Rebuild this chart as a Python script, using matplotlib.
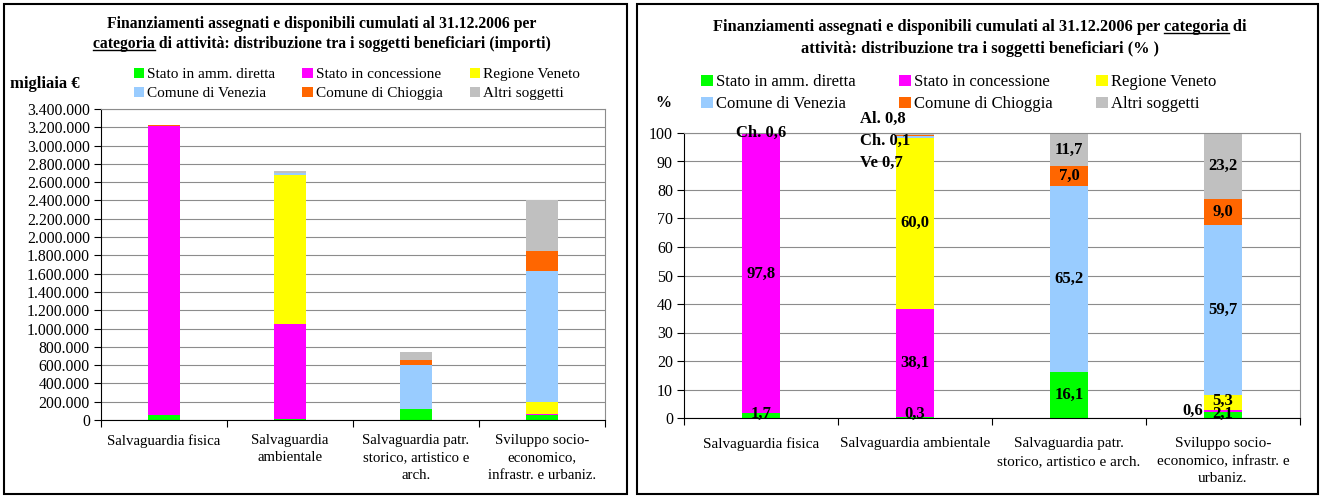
import matplotlib
matplotlib.use("Agg")
import matplotlib.pyplot as plt
from matplotlib.lines import Line2D
from matplotlib.patches import Patch, Rectangle
from matplotlib.ticker import FuncFormatter

plt.rcParams['font.family'] = ['Liberation Serif', 'DejaVu Serif']

# categorie (etichette diverse nei due grafici)
cat_importi = ["Salvaguardia fisica", "Salvaguardia\nambientale",
               "Salvaguardia patr.\nstorico, artistico e\narch.",
               "Sviluppo socio-\neconomico,\ninfrastr. e urbaniz."]
cat_perc = ["Salvaguardia fisica", "Salvaguardia ambientale",
            "Salvaguardia patr.\nstorico, artistico e arch.",
            "Sviluppo socio-\neconomico, infrastr. e\nurbaniz."]

soggetti = ["Stato in amm. diretta", "Stato in concessione", "Regione Veneto",
            "Comune di Venezia", "Comune di Chioggia", "Altri soggetti"]
colori = ["#00FF00", "#FF00FF", "#FFFF00", "#99CCFF", "#FF6600", "#C0C0C0"]

# importi in migliaia di euro
imp_amm = [54800, 8200, 119600, 50500]
imp_conc = [3154000, 1037000, 0, 14400]
imp_reg = [0, 1633000, 0, 127500]
imp_ven = [0, 19000, 484400, 1436000]
imp_chi = [19400, 2700, 52000, 216500]
imp_alt = [0, 21800, 86900, 558000]

# percentuali
pct_amm = [1.7, 0.3, 16.1, 2.1]
pct_conc = [97.8, 38.1, 0, 0.6]
pct_reg = [0, 60.0, 0, 5.3]
pct_ven = [0, 0.7, 65.2, 59.7]
pct_chi = [0.6, 0.1, 7.0, 9.0]
pct_alt = [0, 0.8, 11.7, 23.2]

importi = [imp_amm, imp_conc, imp_reg, imp_ven, imp_chi, imp_alt]
percentuali = [pct_amm, pct_conc, pct_reg, pct_ven, pct_chi, pct_alt]

W, H = 1323, 498
fig = plt.figure(figsize=(W / 100, H / 100), dpi=100)


def px_axes(x0, y0, x1, y1):
    return fig.add_axes([x0 / W, 1 - y1 / H, (x1 - x0) / W, (y1 - y0) / H])


def stile_assi(ax, labels, fs_x, fs_y, pad_x):
    x = range(len(labels))
    ax.set_xlim(-0.5, len(labels) - 0.5)
    ax.set_xticks(list(x))
    ax.set_xticklabels(labels, fontsize=fs_x, linespacing=1.45)
    ax.set_xticks([i - 0.5 for i in range(len(labels) + 1)], minor=True)
    ax.tick_params(axis='x', which='major', length=0, pad=pad_x)
    ax.tick_params(axis='x', which='minor', length=5, direction='out', width=0.8)
    ax.tick_params(axis='y', length=5, direction='out', width=0.8, labelsize=fs_y, pad=3)
    ax.grid(axis='y', color='#8c8c8c', lw=0.8)
    ax.set_axisbelow(True)
    for s in ['top', 'right']:
        ax.spines[s].set_color('#8c8c8c')
    for s in ['left', 'bottom']:
        ax.spines[s].set_color('black')


def stacked(ax, dati, width):
    bottom = [0] * 4
    for serie, col in zip(dati, colori):
        ax.bar(range(4), serie, width, bottom=bottom, color=col, zorder=2)
        bottom = [b + v for b, v in zip(bottom, serie)]


def legenda(ax, anchor, fs, colsp, lsp):
    order = [0, 3, 1, 4, 2, 5]
    handles = [Patch(facecolor=colori[i], edgecolor='none') for i in order]
    ax.legend(handles, [soggetti[i] for i in order], ncol=3, loc='upper left',
              bbox_to_anchor=anchor, bbox_transform=fig.transFigure, frameon=False,
              fontsize=fs, handlelength=0.7, handleheight=0.7, handletextpad=0.2,
              columnspacing=colsp, labelspacing=lsp, borderpad=0)


def titolo(xc, y, righe, fs, step):
    renderer = fig.canvas.get_renderer()

    def w(s):
        t = fig.text(0, 0, s, fontsize=fs, fontweight='bold')
        v = t.get_window_extent(renderer).width
        t.remove()
        return v

    for k, (testo, parola) in enumerate(righe):
        yy = H - (y + k * step)
        t = fig.text(xc / W, yy / H, testo, fontsize=fs, fontweight='bold',
                     ha='center', va='baseline')
        if parola:
            bb = t.get_window_extent(renderer)
            pre = testo[:testo.index(parola) + len(parola)]
            x1 = bb.x0 + w(pre)
            x0 = x1 - w(parola)
            fig.add_artist(Line2D([x0 / W, x1 / W], [(yy - 2) / H] * 2,
                                  transform=fig.transFigure, color='black', lw=1))


# riquadri dei due grafici
for x0, x1 in [(4, 627), (637, 1318)]:
    fig.add_artist(Rectangle((x0 / W, 4 / H), (x1 - x0) / W, (H - 8) / H,
                             transform=fig.transFigure, fill=False,
                             edgecolor='black', lw=1.5))

# ---- grafico importi ----
ax1 = px_axes(101, 109, 605, 420)
stacked(ax1, importi, 0.26)
stile_assi(ax1, cat_importi, 10.7, 11.3, 10)
ax1.set_ylim(0, 3400000)
ax1.set_yticks(range(0, 3400001, 200000))
ax1.yaxis.set_major_formatter(FuncFormatter(lambda v, p: f"{int(v):,}".replace(",", ".")))
legenda(ax1, (126 / W, 1 - 60 / H), 11, 1.75, 0.35)
titolo(322, 28, [("Finanziamenti assegnati e disponibili cumulati al 31.12.2006 per", None),
                 ("categoria di attività: distribuzione tra i soggetti beneficiari (importi)", "categoria")],
       11.3, 20)
fig.text(10 / W, 1 - 84 / H, "migliaia €", fontsize=12, fontweight='bold', va='center')

# ---- grafico percentuali ----
ax2 = px_axes(684, 133, 1300, 418)
stacked(ax2, percentuali, 0.25)
stile_assi(ax2, cat_perc, 11, 11.5, 14)
ax2.set_ylim(0, 100)
ax2.set_yticks(range(0, 101, 10))
legenda(ax2, (693 / W, 1 - 66 / H), 12, 2.6, 0.36)
titolo(980, 31, [("Finanziamenti assegnati e disponibili cumulati al 31.12.2006 per categoria di", "categoria"),
                 ("attività: distribuzione tra i soggetti beneficiari (% )", None)], 11.8, 22)
fig.text(655 / W, 1 - 103 / H, "%", fontsize=11.5, fontweight='bold', va='center')

# etichette dei valori
fmt = lambda v: f"{v:.1f}".replace(".", ",")
lab = dict(fontsize=12, fontweight='bold', zorder=5)
bottom = [0] * 4
for s, serie in enumerate(percentuali):
    for c, v in enumerate(serie):
        if v == 0:
            continue
        ym = bottom[c] + v / 2
        if c == 1 and s >= 3:
            continue
        if c == 0 and s == 4:
            ax2.text(c, 100, "Ch. " + fmt(v), ha='center', va='center', **lab)
        elif c == 3 and s == 1:
            ax2.text(c - 0.13, ym, fmt(v), ha='right', va='center', **lab)
        elif c == 3 and s == 2:
            ax2.text(c, ym + 0.7, fmt(v), ha='center', va='center', **lab)
        else:
            ax2.text(c, max(ym, 1.3), fmt(v), ha='center', va='center', **lab)
    bottom = [b + v for b, v in zip(bottom, serie)]

# piccole quote sopra "Salvaguardia ambientale"
for k, (pref, s) in enumerate([("Al. ", 5), ("Ch. ", 4), ("Ve ", 3)]):
    ax2.text(1 - 0.36, 105 - k * 7.7, pref + fmt(percentuali[s][1]),
             ha='left', va='center', clip_on=False, **lab)

fig.savefig("out.png", dpi=100)
